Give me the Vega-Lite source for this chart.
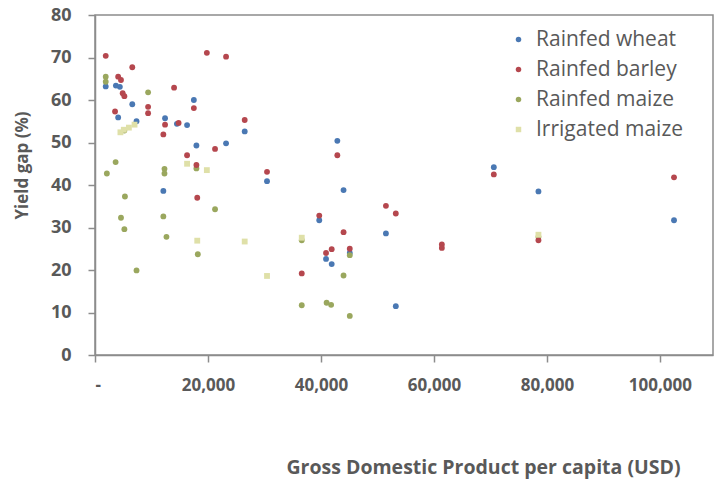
{
  "$schema": "https://vega.github.io/schema/vega-lite/v6.json",
  "autosize": "none",
  "width": 618,
  "height": 340,
  "padding": {"left": 95, "top": 15, "right": 3, "bottom": 129},
  "background": "white",
  "config": {
    "view": {"stroke": "#8c8c8c", "strokeWidth": 1.5},
    "font": "Open Sans"
  },
  "data": {
    "values": [
      {"crop": "Rainfed wheat", "gdp": 1900, "gap": 63.2},
      {"crop": "Rainfed wheat", "gdp": 3700, "gap": 63.4},
      {"crop": "Rainfed wheat", "gdp": 4400, "gap": 63.1},
      {"crop": "Rainfed wheat", "gdp": 4100, "gap": 55.9},
      {"crop": "Rainfed wheat", "gdp": 6600, "gap": 59},
      {"crop": "Rainfed wheat", "gdp": 7350, "gap": 55},
      {"crop": "Rainfed wheat", "gdp": 12400, "gap": 55.7},
      {"crop": "Rainfed wheat", "gdp": 14500, "gap": 54.4},
      {"crop": "Rainfed wheat", "gdp": 16300, "gap": 54.1},
      {"crop": "Rainfed wheat", "gdp": 17500, "gap": 60},
      {"crop": "Rainfed wheat", "gdp": 12100, "gap": 38.6},
      {"crop": "Rainfed wheat", "gdp": 17950, "gap": 49.3},
      {"crop": "Rainfed wheat", "gdp": 23200, "gap": 49.8},
      {"crop": "Rainfed wheat", "gdp": 26500, "gap": 52.6},
      {"crop": "Rainfed wheat", "gdp": 30450, "gap": 40.9},
      {"crop": "Rainfed wheat", "gdp": 39700, "gap": 31.7},
      {"crop": "Rainfed wheat", "gdp": 40900, "gap": 22.6},
      {"crop": "Rainfed wheat", "gdp": 41900, "gap": 21.4},
      {"crop": "Rainfed wheat", "gdp": 42900, "gap": 50.4},
      {"crop": "Rainfed wheat", "gdp": 44000, "gap": 38.8},
      {"crop": "Rainfed wheat", "gdp": 45100, "gap": 24},
      {"crop": "Rainfed wheat", "gdp": 51500, "gap": 28.6},
      {"crop": "Rainfed wheat", "gdp": 53250, "gap": 11.5},
      {"crop": "Rainfed wheat", "gdp": 70600, "gap": 44.2},
      {"crop": "Rainfed wheat", "gdp": 78500, "gap": 38.5},
      {"crop": "Rainfed wheat", "gdp": 102500, "gap": 31.7},
      {"crop": "Rainfed barley", "gdp": 1900, "gap": 70.4},
      {"crop": "Rainfed barley", "gdp": 19800, "gap": 71.1},
      {"crop": "Rainfed barley", "gdp": 23200, "gap": 70.2},
      {"crop": "Rainfed barley", "gdp": 6600, "gap": 67.7},
      {"crop": "Rainfed barley", "gdp": 4100, "gap": 65.5},
      {"crop": "Rainfed barley", "gdp": 4600, "gap": 64.7},
      {"crop": "Rainfed barley", "gdp": 4900, "gap": 61.6},
      {"crop": "Rainfed barley", "gdp": 5200, "gap": 60.9},
      {"crop": "Rainfed barley", "gdp": 14000, "gap": 62.9},
      {"crop": "Rainfed barley", "gdp": 17500, "gap": 58.1},
      {"crop": "Rainfed barley", "gdp": 9400, "gap": 58.4},
      {"crop": "Rainfed barley", "gdp": 9400, "gap": 56.9},
      {"crop": "Rainfed barley", "gdp": 3550, "gap": 57.3},
      {"crop": "Rainfed barley", "gdp": 12400, "gap": 54.2},
      {"crop": "Rainfed barley", "gdp": 12100, "gap": 51.9},
      {"crop": "Rainfed barley", "gdp": 14800, "gap": 54.6},
      {"crop": "Rainfed barley", "gdp": 26500, "gap": 55.3},
      {"crop": "Rainfed barley", "gdp": 21250, "gap": 48.5},
      {"crop": "Rainfed barley", "gdp": 16300, "gap": 47},
      {"crop": "Rainfed barley", "gdp": 17950, "gap": 44.7},
      {"crop": "Rainfed barley", "gdp": 18100, "gap": 37},
      {"crop": "Rainfed barley", "gdp": 30450, "gap": 43.1},
      {"crop": "Rainfed barley", "gdp": 42900, "gap": 47},
      {"crop": "Rainfed barley", "gdp": 39700, "gap": 32.8},
      {"crop": "Rainfed barley", "gdp": 51500, "gap": 35.1},
      {"crop": "Rainfed barley", "gdp": 53250, "gap": 33.3},
      {"crop": "Rainfed barley", "gdp": 44000, "gap": 28.9},
      {"crop": "Rainfed barley", "gdp": 61400, "gap": 26},
      {"crop": "Rainfed barley", "gdp": 61400, "gap": 25.2},
      {"crop": "Rainfed barley", "gdp": 41900, "gap": 24.9},
      {"crop": "Rainfed barley", "gdp": 40900, "gap": 24},
      {"crop": "Rainfed barley", "gdp": 36600, "gap": 19.2},
      {"crop": "Rainfed barley", "gdp": 45100, "gap": 25},
      {"crop": "Rainfed barley", "gdp": 70600, "gap": 42.5},
      {"crop": "Rainfed barley", "gdp": 78500, "gap": 27},
      {"crop": "Rainfed barley", "gdp": 102500, "gap": 41.8},
      {"crop": "Rainfed maize", "gdp": 1900, "gap": 65.5},
      {"crop": "Rainfed maize", "gdp": 1900, "gap": 64.3},
      {"crop": "Rainfed maize", "gdp": 9400, "gap": 61.8},
      {"crop": "Rainfed maize", "gdp": 3650, "gap": 45.4},
      {"crop": "Rainfed maize", "gdp": 2100, "gap": 42.7},
      {"crop": "Rainfed maize", "gdp": 5300, "gap": 37.3},
      {"crop": "Rainfed maize", "gdp": 4600, "gap": 32.3},
      {"crop": "Rainfed maize", "gdp": 5200, "gap": 29.6},
      {"crop": "Rainfed maize", "gdp": 7350, "gap": 19.9},
      {"crop": "Rainfed maize", "gdp": 12300, "gap": 43.8},
      {"crop": "Rainfed maize", "gdp": 12300, "gap": 42.7},
      {"crop": "Rainfed maize", "gdp": 12100, "gap": 32.6},
      {"crop": "Rainfed maize", "gdp": 12650, "gap": 27.8},
      {"crop": "Rainfed maize", "gdp": 18200, "gap": 23.7},
      {"crop": "Rainfed maize", "gdp": 21250, "gap": 34.3},
      {"crop": "Rainfed maize", "gdp": 17950, "gap": 43.9},
      {"crop": "Rainfed maize", "gdp": 36600, "gap": 11.7},
      {"crop": "Rainfed maize", "gdp": 41000, "gap": 12.3},
      {"crop": "Rainfed maize", "gdp": 41800, "gap": 11.8},
      {"crop": "Rainfed maize", "gdp": 44000, "gap": 18.7},
      {"crop": "Rainfed maize", "gdp": 45100, "gap": 9.2},
      {"crop": "Rainfed maize", "gdp": 36600, "gap": 27},
      {"crop": "Rainfed maize", "gdp": 45100, "gap": 23.5},
      {"crop": "Rainfed maize", "gdp": 78500, "gap": 27.8},
      {"crop": "Rainfed maize", "gdp": 5200, "gap": 52.8},
      {"crop": "Irrigated maize", "gdp": 4500, "gap": 52.4},
      {"crop": "Irrigated maize", "gdp": 5100, "gap": 53},
      {"crop": "Irrigated maize", "gdp": 6000, "gap": 53.5},
      {"crop": "Irrigated maize", "gdp": 7000, "gap": 54.2},
      {"crop": "Irrigated maize", "gdp": 16300, "gap": 45},
      {"crop": "Irrigated maize", "gdp": 19800, "gap": 43.5},
      {"crop": "Irrigated maize", "gdp": 18100, "gap": 26.9},
      {"crop": "Irrigated maize", "gdp": 26500, "gap": 26.7},
      {"crop": "Irrigated maize", "gdp": 30450, "gap": 18.6},
      {"crop": "Irrigated maize", "gdp": 36600, "gap": 27.6},
      {"crop": "Irrigated maize", "gdp": 78500, "gap": 28.3}
    ]
  },
  "mark": {"type": "point", "filled": true, "opacity": 1, "size": 34},
  "encoding": {
    "x": {
      "field": "gdp", "type": "quantitative",
      "scale": {"domain": [0, 109400], "nice": false, "zero": true},
      "axis": {
        "values": [0, 20000, 40000, 60000, 80000, 100000],
        "labelExpr": "datum.value == 0 ? '-' : format(datum.value, ',')",
        "grid": false,
        "domainColor": "#8c8c8c", "domainWidth": 1.5,
        "tickColor": "#8c8c8c", "tickWidth": 1.5, "tickSize": 7,
        "labelFont": "Open Sans", "labelFontSize": 17, "labelFontWeight": "bold", "labelColor": "#595959",
        "labelPadding": 15,
        "title": "Gross Domestic Product per capita (USD)",
        "titleFont": "Open Sans", "titleFontSize": 19.5, "titleFontWeight": "bold", "titleColor": "#595959",
        "titleX": 388, "titleY": 112, "titleAnchor": "middle", "titleBaseline": "middle"
      }
    },
    "y": {
      "field": "gap", "type": "quantitative",
      "scale": {"domain": [0, 80], "nice": false},
      "axis": {
        "values": [0, 10, 20, 30, 40, 50, 60, 70, 80],
        "grid": false,
        "domainColor": "#8c8c8c", "domainWidth": 1.5,
        "tickColor": "#8c8c8c", "tickWidth": 1.5, "tickSize": 7,
        "labelFont": "Open Sans", "labelFontSize": 18, "labelFontWeight": "bold", "labelColor": "#595959",
        "labelPadding": 17,
        "title": "Yield gap (%)",
        "titleFont": "Open Sans", "titleFontSize": 17, "titleFontWeight": "bold", "titleColor": "#595959",
        "titleX": -73, "titleY": 150, "titleAngle": -90, "titleAnchor": "middle", "titleBaseline": "middle"
      }
    },
    "color": {
      "field": "crop", "type": "nominal",
      "scale": {
        "domain": ["Rainfed wheat", "Rainfed barley", "Rainfed maize", "Irrigated maize"],
        "range": ["#4a78b3", "#b5474e", "#9aa75e", "#dfe0a8"]
      },
      "legend": {
        "title": null, "orient": "none", "legendX": 413, "legendY": 14,
        "labelFont": "Open Sans", "labelFontSize": 21, "labelColor": "#595959",
        "symbolSize": 30, "rowPadding": 8, "labelOffset": 7
      }
    },
    "shape": {
      "field": "crop", "type": "nominal",
      "scale": {
        "domain": ["Rainfed wheat", "Rainfed barley", "Rainfed maize", "Irrigated maize"],
        "range": ["circle", "circle", "circle", "square"]
      },
      "legend": null
    },
    "order": {"field": "crop", "sort": "descending"}
  }
}
